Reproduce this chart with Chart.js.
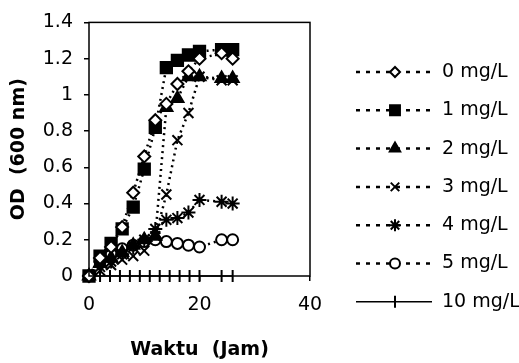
<!DOCTYPE html>
<html>
<head>
<meta charset="utf-8">
<script src="https://cdn.jsdelivr.net/npm/chart.js@4/dist/chart.umd.min.js"></script>
<style>
  body { margin: 0; background: #fff; }
  canvas { display: block; }
</style>
</head>
<body>
<canvas id="chart" width="519" height="363"></canvas>
<script>
// waktu (jam) for every series, 10 mg/L was sampled on its own grid
const times = [0, 2, 4, 6, 8, 10, 12, 14, 16, 18, 20, 24, 26];
const times10 = [0, 2, 3.8, 5.6, 7.4, 9.2, 11, 12.8, 14.6, 16.4, 18.2, 20, 24, 26];

const od0 = [0, 0.1, 0.16, 0.27, 0.46, 0.66, 0.86, 0.95, 1.06, 1.13, 1.2, 1.23, 1.2];
const od1 = [0, 0.11, 0.18, 0.26, 0.38, 0.59, 0.82, 1.15, 1.19, 1.22, 1.24, 1.25, 1.25];
const od2 = [0, 0.07, 0.1, 0.13, 0.17, 0.2, 0.22, 0.93, 0.98, 1.1, 1.1, 1.09, 1.09];
const od3 = [0, 0.03, 0.06, 0.09, 0.11, 0.14, 0.22, 0.45, 0.75, 0.9, 1.1, 1.08, 1.08];
const od4 = [0, 0.05, 0.08, 0.12, 0.16, 0.2, 0.26, 0.31, 0.32, 0.35, 0.42, 0.41, 0.4];
const od5 = [0, 0.08, 0.12, 0.15, 0.17, 0.19, 0.2, 0.19, 0.18, 0.17, 0.16, 0.2, 0.2];
const od10 = [0, 0, 0, 0, 0, 0, 0, 0, 0, 0, 0, 0, 0, 0];

const seriesNames = ['0 mg/L', '1 mg/L', '2 mg/L', '3 mg/L', '4 mg/L', '5 mg/L', '10 mg/L'];
const xTicks = [0, 20, 40];
const yTickLabels = ['0', '0.2', '0.4', '0.6', '0.8', '1', '1.2', '1.4'];

const FONT = "'DejaVu Sans', 'Liberation Sans', sans-serif";

function pts(xs, ys) {
    return xs.map((x, i) => ({ x: x, y: ys[i] }));
}

function dotted(label, xs, ys, style, radius, fill, legendRadius) {
    return {
        label: label,
        data: pts(xs, ys),
        borderColor: '#000',
        borderWidth: 2.5,
        borderDash: [2, 4],
        pointStyle: style,
        pointRadius: radius,
        pointHoverRadius: radius,
        pointBackgroundColor: fill,
        pointBorderColor: '#000',
        pointBorderWidth: 2,
        legendRadius: legendRadius,
        fill: false,
        tension: 0,
        clip: false
    };
}

const datasets = [
    dotted(seriesNames[0], times, od0, 'rectRot', 6, '#fff', 5),
    dotted(seriesNames[1], times, od1, 'rect', 8, '#000', 7),
    dotted(seriesNames[2], times, od2, 'triangle', 7, '#000', 6),
    dotted(seriesNames[3], times, od3, 'crossRot', 7, '#000', 6),
    dotted(seriesNames[4], times, od4, 'star', 7, '#000', 6),
    dotted(seriesNames[5], times, od5, 'circle', 5.5, '#fff', 5),
    {
        label: seriesNames[6],
        data: pts(times10, od10),
        borderColor: '#000',
        borderWidth: 1.5,
        pointStyle: 'line',
        pointRotation: 90,
        pointRadius: 6,
        pointHoverRadius: 6,
        pointBorderColor: '#000',
        pointBorderWidth: 2,
        legendRadius: 6,
        fill: false,
        clip: false
    }
];

// box round the plot area
const frame = {
    id: 'frame',
    afterDraw(chart) {
        const a = chart.chartArea, ctx = chart.ctx;
        ctx.save();
        ctx.strokeStyle = '#000';
        ctx.lineWidth = 1.5;
        ctx.strokeRect(a.left, a.top, a.right - a.left, a.bottom - a.top);
        ctx.restore();
    }
};

// legend on the right: dashed line, marker in the middle, label
const sideLegend = {
    id: 'sideLegend',
    afterDraw(chart) {
        const ctx = chart.ctx;
        chart.data.datasets.forEach((ds, i) => {
            const y = 72 + i * 38.3;
            ctx.save();
            ctx.strokeStyle = '#000';
            ctx.lineWidth = ds.borderDash ? 2.5 : 1.5;
            ctx.setLineDash(ds.borderDash ? [4, 6] : []);
            ctx.beginPath();
            ctx.moveTo(356, y);
            ctx.lineTo(432, y);
            ctx.stroke();
            ctx.setLineDash([]);
            ctx.fillStyle = ds.pointBackgroundColor || '#000';
            ctx.strokeStyle = '#000';
            ctx.lineWidth = ds.pointBorderWidth;
            Chart.helpers.drawPoint(ctx, {
                pointStyle: ds.pointStyle,
                radius: ds.legendRadius,
                rotation: ds.pointRotation || 0,
                borderWidth: ds.pointBorderWidth
            }, 395, y);
            ctx.fillStyle = '#000';
            ctx.font = '19px ' + FONT;
            ctx.textBaseline = 'middle';
            ctx.fillText(ds.label, 442, y);
            ctx.restore();
        });
    }
};

new Chart(document.getElementById('chart'), {
    type: 'line',
    data: { datasets: datasets },
    options: {
        responsive: false,
        devicePixelRatio: 1,
        animation: false,
        layout: { padding: { left: 0, right: 209, top: 20, bottom: 2 } },
        plugins: {
            legend: { display: false },
            tooltip: { enabled: false }
        },
        scales: {
            x: {
                type: 'linear',
                min: 0,
                max: 40,
                afterFit(s) { s.height = 85; },
                afterBuildTicks(s) { s.ticks = xTicks.map(v => ({ value: v })); },
                border: { display: false },
                grid: { display: true, drawOnChartArea: false, color: '#000', tickLength: 5, lineWidth: 1.5 },
                ticks: { color: '#000', font: { family: FONT, size: 19 }, padding: 13, maxRotation: 0 },
                title: {
                    display: true,
                    text: 'Waktu  (Jam)',
                    color: '#000',
                    font: { family: FONT, size: 19, weight: 'bold' },
                    padding: { top: 0, bottom: 0 }
                }
            },
            y: {
                min: 0,
                max: 1.4,
                afterFit(s) { s.width = 89; },
                border: { display: false },
                grid: { display: true, drawOnChartArea: false, color: '#000', tickLength: 5, lineWidth: 1.5 },
                ticks: {
                    stepSize: 0.2,
                    color: '#000',
                    font: { family: FONT, size: 19 },
                    padding: 11,
                    callback: (v, i) => yTickLabels[i]
                },
                title: {
                    display: true,
                    text: 'OD  (600 nm)',
                    color: '#000',
                    font: { family: FONT, size: 19, weight: 'bold' },
                    padding: { top: 8, bottom: 0 }
                }
            }
        }
    },
    plugins: [frame, sideLegend]
});
</script>
</body>
</html>
